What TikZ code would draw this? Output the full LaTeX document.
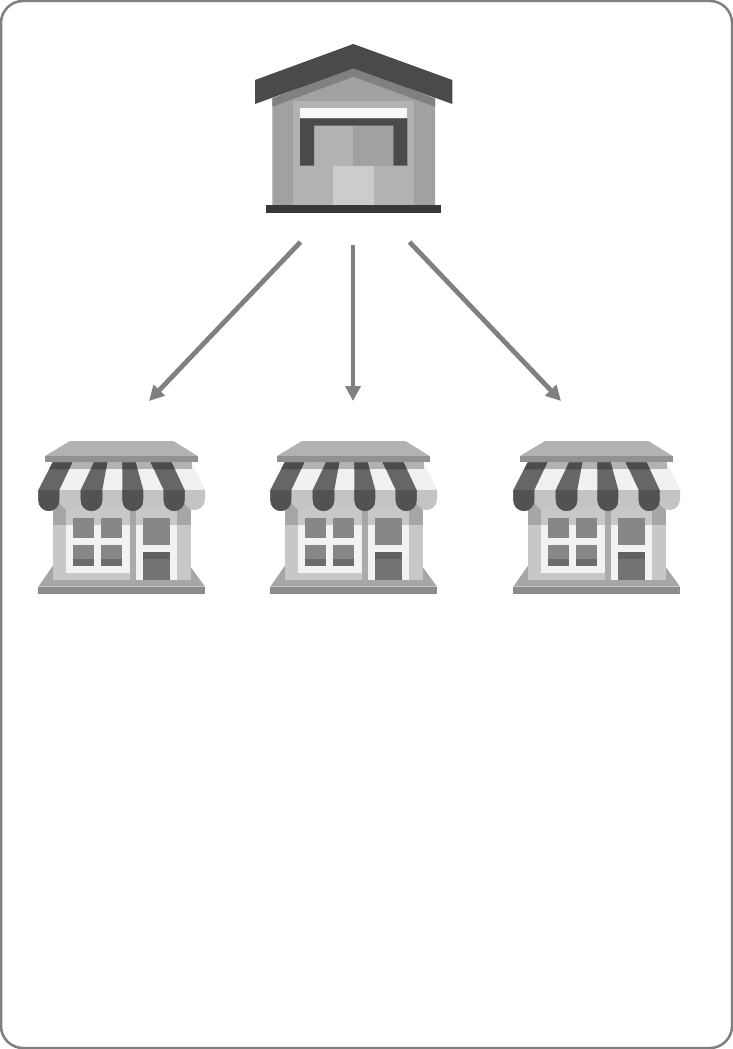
\documentclass[tikz,border=0pt]{standalone}
\usetikzlibrary{arrows.meta,positioning}
\definecolor{frameclr}{RGB}{128,128,128}
\definecolor{arrclr}{RGB}{128,128,128}
\tikzset{
  %% invisible place holders for the two icons
  depotbox/.style={rectangle,minimum width=198pt,minimum height=170pt,inner sep=0pt,outer sep=0pt},
  shopbox/.style={rectangle,minimum width=167pt,minimum height=153pt,inner sep=0pt,outer sep=0pt},
  %% arrows
  arr/.style={-{Triangle[length=15pt,width=15pt]},line width=4.8pt,color=arrclr},
  %% warehouse icon, drawn in 3x pixels round its centre
  depoticon/.pic={
    \begin{scope}[x=0.33333pt,y=-0.33333pt,shift={(-340.5,-297)}]
      \fill[black!37] (97,205) -- (340,120) -- (585,205) -- (585,525) -- (97,525) -- cycle;
      \fill[black!30] (160,212) rectangle (523,525);
      \fill[black!37] (160,212) -- (340,140) -- (523,212) -- cycle;
      \fill[black!50] (97,205) -- (340,110) -- (585,205) -- (585,230) -- (340,140) -- (97,230) -- cycle;
      \fill[black!3] (180,233) rectangle (502,263);
      \fill[black!30] (222,287) rectangle (340,407);
      \fill[black!37] (340,287) rectangle (460,407);
      \fill[black!71] (180,265) -- (502,265) -- (502,407) -- (460,407) -- (460,287)
        -- (222,287) -- (222,407) -- (180,407) -- cycle;
      \fill[black!20] (280,407) rectangle (402,525);
      \fill[black!71] (45,150) -- (340,42) -- (637,150) -- (637,222) -- (340,115) -- (45,222) -- cycle;
      \fill[black!78] (78,525) rectangle (603,548);
    \end{scope}
  },
  %% shop icon, same way
  shopicon/.pic={
    \begin{scope}[x=0.33333pt,y=-0.33333pt,shift={(-304.5,-262.5)}]
      %% ramp and base
      \fill[black!35] (98,408) -- (55,470) -- (555,470) -- (510,408) -- cycle;
      \fill[black!45] (55,470) rectangle (555,492);
      %% walls
      \fill[black!22] (98,215) rectangle (513,450);
      \fill[black!33] (330,285) rectangle (347,450);
      \fill[black!5] (138,215) rectangle (330,430);
      \fill[black!5] (347,215) rectangle (470,450);
      %% shade under the awning
      \fill[black!35] (98,215) rectangle (138,285);
      \fill[black!35] (330,215) rectangle (347,285);
      \fill[black!35] (470,215) rectangle (513,285);
      \fill[black!22] (138,215) rectangle (330,285);
      \fill[black!22] (347,215) rectangle (470,285);
      %% panes
      \foreach \px/\py in {160/263,243/263,160/345,243/345}
        \fill[black!47] (\px,\py) rectangle ++(62,62);
      \foreach \px in {160,243}
        \fill[black!58] (\px,388) rectangle ++(62,19);
      \fill[black!47] (368,263) rectangle (450,345);
      \fill[black!55] (368,367) rectangle (450,450);
      \fill[black!62] (368,367) rectangle (450,388);
      %% awning, light part
      \fill[black!6] (98,97) -- (513,97) .. controls (530,125) and (545,155) .. (555,180)
        -- (55,180) .. controls (65,155) and (80,125) .. (98,97) -- cycle;
      \fill[black!30] (98,97) rectangle (516,118);
      \foreach \ax/\bx in {118/182,247/307,372/435,492/555}
        \fill[black!23] (\ax,180) -- (\bx,180) -- (\bx,208) arc[start angle=0,end angle=180,x radius={(\bx-\ax)/2},y radius=32] -- cycle;
      %% awning, dark stripes
      \foreach \ta/\tb/\ax/\bx in {98/157/55/118,222/262/182/247,307/347/307/370,392/455/431/494}{
        \fill[black!60] (\ta,97) -- (\tb,97) -- (\bx,180) -- (\bx,211)
          arc[start angle=0,end angle=180,x radius={(\bx-\ax)/2},y radius=32] -- (\ax,180) -- cycle;
        \fill[black!68] (\ax,180) -- (\bx,180) -- (\bx,211)
          arc[start angle=0,end angle=180,x radius={(\bx-\ax)/2},y radius=32] -- cycle;
        \fill[black!70] (\ta,97) -- (\tb,97) -- ({\tb+(\bx-\tb)*0.25},118) -- ({\ta+(\ax-\ta)*0.25},118) -- cycle;
      }
      %% canopy
      \fill[black!30] (75,78) -- (150,33) -- (460,33) -- (533,78) -- cycle;
      \fill[black!43] (75,78) rectangle (533,97);
    \end{scope}
  },
}
\begin{document}
\begin{tikzpicture}[x=1pt,y=-1pt]
  \useasboundingbox (0,0) rectangle (733,1049);
  \draw[frameclr,line width=2.5pt,rounded corners=22pt] (1,1) rectangle (732,1048);

  \node[shopbox] (shopl) at (121.5,517.5) {};
  \node[shopbox,right=65pt of shopl] (shopm) {};
  \node[shopbox,right=76pt of shopm] (shopr) {};
  \node[depotbox,above=227pt of shopm] (depot) {};

  \pic at (depot) {depoticon};
  \pic at (shopl) {shopicon};
  \pic at (shopm) {shopicon};
  \pic at (shopr) {shopicon};

  \draw[arr] ([xshift=-53pt,yshift=-28pt]depot.south) -- ([xshift=27.5pt,yshift=40pt]shopl.north);
  \draw[arr] ([xshift=-0.5pt,yshift=-31pt]depot.south) -- ([xshift=-0.5pt,yshift=40pt]shopm.north);
  \draw[arr] ([xshift=56pt,yshift=-28pt]depot.south) -- ([xshift=-35.5pt,yshift=40pt]shopr.north);
\end{tikzpicture}
\end{document}
